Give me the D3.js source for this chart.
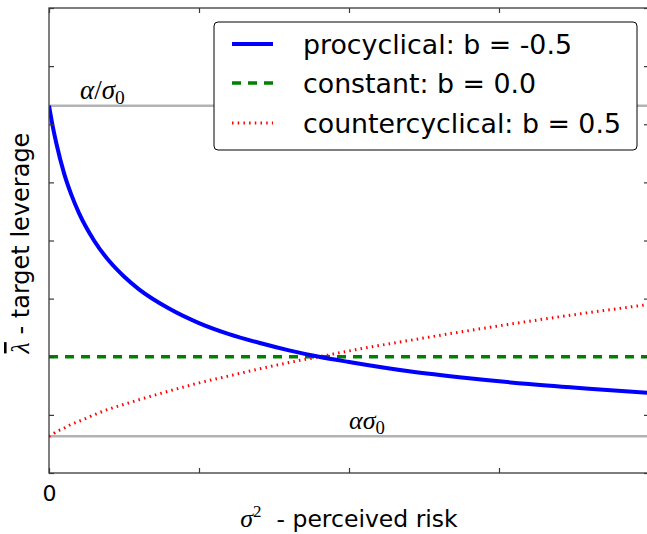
<!DOCTYPE html>
<html>
<head>
<meta charset="utf-8">
<script src="https://cdn.jsdelivr.net/npm/d3@7"></script>
<style>
  html, body { margin: 0; padding: 0; background: #fff; }
  svg { display: block; }
  text { font-family: "DejaVu Sans", sans-serif; fill: #000; }
</style>
</head>
<body>
<svg id="chart" width="647" height="534"></svg>
<script>
// ---- data ----
const riskValues = [0, 0.01, 0.025, 0.05, 0.075, 0.1, 0.15, 0.2, 0.25, 0.3, 0.4, 0.5, 0.6, 0.7, 0.8, 0.9, 1.0, 1.2, 1.4, 1.6, 1.8, 2.0];
const procyclical = [6.32, 6.03, 5.66, 5.16, 4.78, 4.47, 4.00, 3.65, 3.38, 3.16, 2.83, 2.58, 2.39, 2.24, 2.11, 2.00, 1.91, 1.75, 1.63, 1.53, 1.45, 1.38];
const constant = [2.0, 2.0, 2.0, 2.0, 2.0, 2.0, 2.0, 2.0, 2.0, 2.0, 2.0, 2.0, 2.0, 2.0, 2.0, 2.0, 2.0, 2.0, 2.0, 2.0, 2.0, 2.0];
const countercyclical = [0.63, 0.66, 0.71, 0.77, 0.84, 0.89, 1.00, 1.10, 1.18, 1.26, 1.41, 1.55, 1.67, 1.79, 1.90, 2.00, 2.10, 2.28, 2.45, 2.61, 2.76, 2.90];
const seriesNames = ["procyclical: b = -0.5", "constant: b = 0.0", "countercyclical: b = 0.5"];
const upperRef = 6.32;   // alpha / sigma0
const lowerRef = 0.632;  // alpha * sigma0
const xTicks = [0, 0.5, 1.0, 1.5, 2.0];
const xTickLabels = ["0", "", "", "", ""];
const yTicks = [0, 1, 2, 3, 4, 5, 6, 7, 8];

// ---- layout ----
const svg = d3.select("#chart");
const pLeft = 49, pRight = 649, pTop = 8, pBottom = 473;
const x = d3.scaleLinear().domain([0, 2]).range([pLeft, pRight]);
const y = d3.scaleLinear().domain([0, 8]).range([pBottom, pTop]);

svg.append("defs").append("clipPath").attr("id", "clip")
  .append("rect").attr("x", pLeft).attr("y", pTop).attr("width", pRight - pLeft).attr("height", pBottom - pTop);

const plot = svg.append("g").attr("clip-path", "url(#clip)");

// reference lines
[upperRef, lowerRef].forEach(v => {
  plot.append("line")
    .attr("x1", x(0)).attr("x2", x(2))
    .attr("y1", y(v)).attr("y2", y(v))
    .attr("stroke", "#b3b3b3").attr("stroke-width", 2.5);
});

const line = d3.line().curve(d3.curveMonotoneX);
const mk = vals => riskValues.map((r, i) => [x(r), y(vals[i])]);

const styles = [
  { vals: procyclical, color: "#0000ff", width: 4, dash: null },
  { vals: constant, color: "#008000", width: 3.5, dash: "9,7" },
  { vals: countercyclical, color: "#ff0000", width: 3, dash: "1.5,4.2" }
];

[styles[1], styles[2], styles[0]].forEach(s => {
  plot.append("path")
    .attr("d", line(mk(s.vals)))
    .attr("fill", "none")
    .attr("stroke", s.color)
    .attr("stroke-width", s.width)
    .attr("stroke-dasharray", s.dash);
});

// reference labels (math)
function mathLabel(xp, yp, size, parts) {
  const t = svg.append("text").attr("x", xp).attr("y", yp)
    .style("font-family", "'Liberation Serif', 'DejaVu Serif', serif")
    .style("font-size", size + "px");
  parts.forEach(p => {
    const ts = t.append("tspan").text(p.t).style("font-style", p.i ? "italic" : "normal");
    if (p.sub) ts.attr("dy", 5).style("font-size", (size * 0.72) + "px");
  });
  return t;
}
mathLabel(80, 99, 27, [{ t: "α", i: true }, { t: "/", i: false }, { t: "σ", i: true }, { t: "0", sub: true }]);
mathLabel(349, 429, 26, [{ t: "α", i: true }, { t: "σ", i: true }, { t: "0", sub: true }]);

// axes frame
svg.append("rect")
  .attr("x", pLeft).attr("y", pTop).attr("width", pRight - pLeft).attr("height", pBottom - pTop)
  .attr("fill", "none").attr("stroke", "#3a3a3a").attr("stroke-width", 1.3);

function styleAxis(g) {
  g.select(".domain").remove();
  g.selectAll("line").attr("stroke", "#3a3a3a").attr("stroke-width", 1.2);
}

const axB = d3.axisBottom(x).tickValues(xTicks).tickSizeInner(-5).tickSizeOuter(0)
  .tickFormat((d, i) => xTickLabels[i]).tickPadding(12);
const gB = svg.append("g").attr("transform", `translate(0,${pBottom})`).call(axB);
styleAxis(gB);
gB.selectAll("text").style("font-size", "22px").style("font-family", "'DejaVu Sans', sans-serif").attr("fill", "#000");

const gT = svg.append("g").attr("transform", `translate(0,${pTop})`)
  .call(d3.axisTop(x).tickValues(xTicks).tickSizeInner(-5).tickSizeOuter(0).tickFormat(""));
styleAxis(gT);

const gL = svg.append("g").attr("transform", `translate(${pLeft},0)`)
  .call(d3.axisLeft(y).tickValues(yTicks).tickSizeInner(-5).tickSizeOuter(0).tickFormat(""));
styleAxis(gL);

const gR = svg.append("g").attr("transform", `translate(${pRight},0)`)
  .call(d3.axisRight(y).tickValues(yTicks).tickSizeInner(-5).tickSizeOuter(0).tickFormat(""));
styleAxis(gR);

// axis labels
const xl = svg.append("text").attr("x", 349).attr("y", 527).attr("text-anchor", "middle")
  .style("font-size", "23.5px").attr("xml:space", "preserve");
xl.append("tspan").text("σ").style("font-family", "'Liberation Serif', serif").style("font-style", "italic").style("font-size", "26px");
xl.append("tspan").text("2").attr("dy", -10).style("font-family", "'Liberation Serif', serif").style("font-size", "17px");
xl.append("tspan").text("  - perceived risk").attr("dy", 10);

const yl = svg.append("text")
  .attr("transform", "translate(29,243) rotate(-90)")
  .attr("text-anchor", "middle").style("font-size", "24px").attr("xml:space", "preserve");
yl.append("tspan").text("λ").style("font-family", "'Liberation Serif', serif").style("font-style", "italic")
  .style("font-size", "26px").style("text-decoration", "overline");
yl.append("tspan").text(" - target leverage");

// legend
const lg = svg.append("g");
lg.append("rect").attr("x", 214).attr("y", 22).attr("width", 423).attr("height", 128)
  .attr("rx", 4).attr("ry", 4).attr("fill", "#fff").attr("stroke", "#000").attr("stroke-width", 1);
const rowY = [44, 83, 123];
styles.forEach((s, i) => {
  lg.append("line").attr("x1", 232).attr("x2", 273).attr("y1", rowY[i]).attr("y2", rowY[i])
    .attr("stroke", s.color).attr("stroke-width", s.width).attr("stroke-dasharray", s.dash);
  lg.append("text").attr("x", 303).attr("y", rowY[i] + 10).style("font-size", "26.8px").text(seriesNames[i]);
});
</script>
</body>
</html>
